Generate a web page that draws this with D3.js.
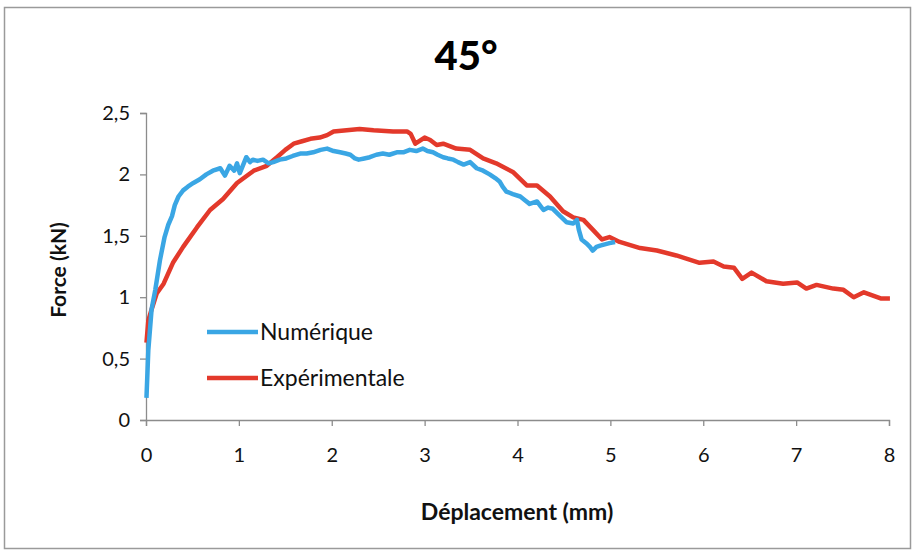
<!DOCTYPE html>
<html>
<head>
<meta charset="utf-8">
<script src="https://cdn.jsdelivr.net/npm/d3@7"></script>
<style>
  html, body { margin: 0; padding: 0; background: #ffffff; }
  svg { display: block; }
  .tick text { font-family: Lato, "Open Sans", sans-serif; }
</style>
</head>
<body>
<svg id="chart" width="915" height="554"></svg>
<script>
// Force–displacement curves, 45° specimen
const title = "45°";
const xLabel = "Déplacement (mm)";
const yLabel = "Force (kN)";
const seriesNames = ["Numérique", "Expérimentale"];

const xTicks = [0, 1, 2, 3, 4, 5, 6, 7, 8];
const yTicks = [0, 0.5, 1, 1.5, 2, 2.5];
const yTickLabels = ["0", "0,5", "1", "1,5", "2", "2,5"];

// Numérique (simulation)
const numX = [0.005, 0.025, 0.06, 0.10, 0.15, 0.20, 0.24, 0.28, 0.31, 0.35, 0.40, 0.45, 0.51, 0.58, 0.65, 0.72, 0.80, 0.85, 0.90, 0.95, 0.98, 1.01, 1.08, 1.12, 1.15, 1.20, 1.26, 1.32, 1.37, 1.44, 1.51, 1.58, 1.66, 1.73, 1.80, 1.88, 1.95, 2.02, 2.09, 2.15, 2.20, 2.25, 2.29, 2.35, 2.41, 2.48, 2.55, 2.62, 2.70, 2.77, 2.84, 2.91, 2.98, 3.03, 3.09, 3.14, 3.20, 3.25, 3.31, 3.36, 3.42, 3.49, 3.56, 3.63, 3.70, 3.76, 3.81, 3.84, 3.88, 3.95, 4.03, 4.08, 4.13, 4.21, 4.25, 4.28, 4.33, 4.38, 4.46, 4.53, 4.60, 4.64, 4.66, 4.69, 4.74, 4.78, 4.81, 4.85, 4.89, 4.94, 4.99, 5.05];
const numY = [0.18, 0.57, 0.90, 1.06, 1.30, 1.49, 1.59, 1.66, 1.75, 1.82, 1.87, 1.90, 1.93, 1.96, 2.00, 2.03, 2.05, 1.99, 2.07, 2.03, 2.09, 2.01, 2.14, 2.10, 2.12, 2.11, 2.12, 2.09, 2.10, 2.12, 2.13, 2.15, 2.17, 2.17, 2.18, 2.20, 2.21, 2.19, 2.18, 2.17, 2.16, 2.13, 2.12, 2.13, 2.14, 2.16, 2.17, 2.16, 2.18, 2.18, 2.20, 2.19, 2.21, 2.19, 2.18, 2.16, 2.14, 2.13, 2.12, 2.10, 2.08, 2.10, 2.05, 2.03, 2.00, 1.97, 1.94, 1.90, 1.86, 1.84, 1.82, 1.79, 1.76, 1.78, 1.74, 1.71, 1.73, 1.72, 1.66, 1.61, 1.60, 1.63, 1.55, 1.47, 1.44, 1.41, 1.38, 1.41, 1.42, 1.43, 1.44, 1.45];

// Expérimentale (test)
const expX = [0.005, 0.025, 0.06, 0.115, 0.19, 0.29, 0.40, 0.55, 0.69, 0.83, 0.98, 1.16, 1.30, 1.41, 1.50, 1.59, 1.68, 1.77, 1.87, 1.95, 2.02, 2.16, 2.30, 2.45, 2.66, 2.81, 2.85, 2.90, 3.00, 3.06, 3.13, 3.20, 3.34, 3.49, 3.63, 3.77, 3.95, 4.10, 4.21, 4.35, 4.49, 4.60, 4.71, 4.81, 4.91, 4.99, 5.10, 5.32, 5.50, 5.71, 5.96, 6.11, 6.22, 6.33, 6.42, 6.52, 6.68, 6.86, 7.01, 7.11, 7.22, 7.40, 7.51, 7.62, 7.73, 7.91, 8.01];
const expY = [0.63, 0.81, 0.90, 1.03, 1.11, 1.28, 1.41, 1.57, 1.71, 1.80, 1.93, 2.03, 2.07, 2.14, 2.20, 2.25, 2.27, 2.29, 2.30, 2.32, 2.35, 2.36, 2.37, 2.36, 2.35, 2.35, 2.33, 2.25, 2.30, 2.28, 2.24, 2.25, 2.21, 2.20, 2.13, 2.09, 2.02, 1.91, 1.91, 1.82, 1.70, 1.65, 1.63, 1.55, 1.47, 1.49, 1.45, 1.40, 1.38, 1.34, 1.28, 1.29, 1.25, 1.24, 1.15, 1.20, 1.13, 1.11, 1.12, 1.07, 1.10, 1.07, 1.06, 1.00, 1.04, 0.99, 0.99];

const colors = ["#3aa6e4", "#e3392b"];
const font = "Lato, 'Open Sans', sans-serif";

const svg = d3.select("#chart");
const W = 915, H = 554;
const margin = { left: 146, right: 26, top: 113, bottom: 134 };

// outer chart frame
svg.append("rect")
  .attr("x", 4.5).attr("y", 7.5)
  .attr("width", 906).attr("height", 541)
  .attr("fill", "#ffffff")
  .attr("stroke", "#9a9a9a").attr("stroke-width", 1.5);

const x = d3.scaleLinear().domain([0, 8]).range([margin.left, W - margin.right]);
const y = d3.scaleLinear().domain([0, 2.5]).range([H - margin.bottom, margin.top]);

// title
svg.append("text")
  .attr("x", 466).attr("y", 70)
  .attr("text-anchor", "middle")
  .attr("font-family", font)
  .attr("font-weight", 900)
  .attr("font-size", 40)
  .attr("fill", "#000")
  .text(title);

// y axis
const yAxis = svg.append("g")
  .attr("transform", `translate(${x(0)},0)`)
  .call(d3.axisLeft(y).tickValues(yTicks)
    .tickFormat((d, i) => yTickLabels[i]).tickSize(6).tickPadding(10));
// x axis
const xAxis = svg.append("g")
  .attr("transform", `translate(0,${y(0)})`)
  .call(d3.axisBottom(x).tickValues(xTicks).tickFormat(d3.format("d")).tickSize(6).tickPadding(22));

[yAxis, xAxis].forEach(g => {
  g.select(".domain").attr("stroke", "#8c8c8c").attr("stroke-width", 1.3);
  g.selectAll(".tick line").attr("stroke", "#8c8c8c").attr("stroke-width", 1.3);
  g.selectAll(".tick text").attr("font-size", 20).attr("fill", "#111");
});

// axis titles
svg.append("text")
  .attr("x", 517).attr("y", 520)
  .attr("text-anchor", "middle")
  .attr("font-family", font)
  .attr("font-weight", 700)
  .attr("font-size", 23)
  .attr("fill", "#111")
  .text(xLabel);

svg.append("text")
  .attr("transform", "translate(66,270) rotate(-90)")
  .attr("text-anchor", "middle")
  .attr("font-family", font)
  .attr("font-weight", 700)
  .attr("font-size", 21)
  .attr("fill", "#111")
  .text(yLabel);

// curves
const line = d3.line().x(d => x(d[0])).y(d => y(d[1]));
const series = [
  d3.zip(numX, numY),
  d3.zip(expX, expY)
];
// experimental underneath, numerical on top where they overlap at the start
svg.append("path")
  .datum(series[1])
  .attr("d", line)
  .attr("fill", "none")
  .attr("stroke", colors[1])
  .attr("stroke-width", 4.5)
  .attr("stroke-linejoin", "round");
svg.append("path")
  .datum(series[0])
  .attr("d", line)
  .attr("fill", "none")
  .attr("stroke", colors[0])
  .attr("stroke-width", 4.5)
  .attr("stroke-linejoin", "round");

// legend
const legend = svg.append("g");
seriesNames.forEach((name, i) => {
  const ly = 332 + i * 46;
  legend.append("line")
    .attr("x1", 207).attr("x2", 258)
    .attr("y1", ly).attr("y2", ly)
    .attr("stroke", colors[i]).attr("stroke-width", 4.5);
  legend.append("text")
    .attr("x", 260).attr("y", ly + 8)
    .attr("font-family", font)
    .attr("font-size", 23)
    .attr("fill", "#111")
    .text(name);
});
</script>
</body>
</html>
